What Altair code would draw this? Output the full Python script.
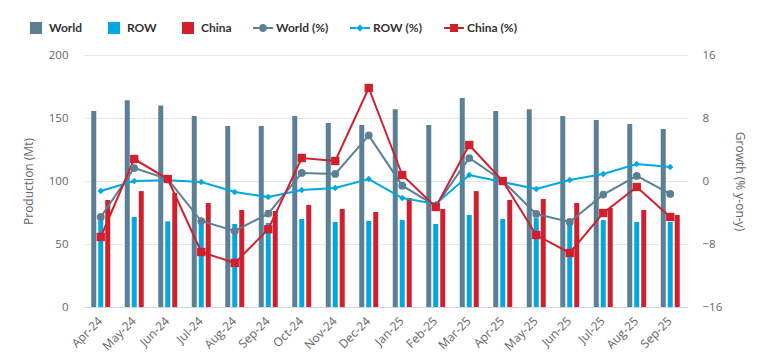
import altair as alt
import pandas as pd

months = ['Apr-24', 'May-24', 'Jun-24', 'Jul-24', 'Aug-24', 'Sep-24', 'Oct-24', 'Nov-24', 'Dec-24',
          'Jan-25', 'Feb-25', 'Mar-25', 'Apr-25', 'May-25', 'Jun-25', 'Jul-25', 'Aug-25', 'Sep-25']

world = [155.6, 164.0, 160.0, 151.6, 143.6, 143.6, 151.6, 146.0, 144.4,
         157.0, 144.4, 165.9, 155.6, 157.0, 151.6, 148.4, 145.2, 141.3]
row = [69.5, 71.4, 68.0, 68.5, 65.9, 66.7, 69.8, 67.5, 68.3,
       69.0, 65.9, 73.0, 69.8, 70.5, 68.0, 69.0, 67.5, 67.5]
china = [85.0, 92.0, 90.5, 82.5, 77.0, 76.2, 81.0, 77.8, 75.4,
         86.5, 77.8, 92.0, 85.0, 85.7, 82.5, 78.6, 77.0, 73.0]

world_pct = [-4.57, 1.65, 0.25, -5.08, -6.35, -4.14, 1.02, 0.89, 5.8,
             -0.59, -3.17, 2.92, 0.0, -4.19, -5.2, -1.73, 0.64, -1.65]
row_pct = [-1.27, 0.0, 0.09, -0.13, -1.4, -2.03, -1.14, -0.89, 0.25,
           -2.16, -2.92, 0.76, -0.13, -1.02, 0.13, 0.89, 2.16, 1.78]
china_pct = [-7.11, 2.79, 0.25, -9.02, -10.41, -6.13, 2.92, 2.54, 11.81,
             0.76, -3.3, 4.57, 0.0, -6.86, -9.14, -4.06, -0.76, -4.57]

bar_series = ['World', 'ROW', 'China']
pct_series = ['World (%)', 'ROW (%)', 'China (%)']
base_colors = ['#5B7F95', '#00A8E1', '#D21F2E']
all_series = bar_series + pct_series
all_colors = base_colors + base_colors
marker_shapes = ['circle', 'diamond', 'square']
marker_sizes = [60, 40, 70]

bars_df = pd.DataFrame(
    [{'month': m, 'series': s, 'value': v}
     for s, vals in zip(bar_series, [world, row, china])
     for m, v in zip(months, vals)]
)
pct_df = pd.DataFrame(
    [{'month': m, 'series': s, 'value': v}
     for s, vals in zip(pct_series, [world_pct, row_pct, china_pct])
     for m, v in zip(months, vals)]
)

# legend symbols (custom paths in unit coordinates): squares for bars, line + marker for lines
P_SQUARE = "M-0.6,-0.6H0.6V0.6H-0.6Z"
P_WORLD = ("M-1,-0.1H-0.4V0.1H-1Z M0.4,-0.1H1V0.1H0.4Z "
           "M-0.4,0A0.4,0.4 0 1,1 0.4,0A0.4,0.4 0 1,1 -0.4,0Z")
P_ROW = ("M-1,-0.1H-0.33V0.1H-1Z M0.33,-0.1H1V0.1H0.33Z "
         "M0,-0.35L0.35,0L0,0.35L-0.35,0Z")
P_CHINA = ("M-1,-0.1H-0.4V0.1H-1Z M0.4,-0.1H1V0.1H0.4Z "
           "M-0.4,-0.4H0.4V0.4H-0.4Z")
legend_shapes = [P_SQUARE, P_SQUARE, P_SQUARE, P_WORLD, P_ROW, P_CHINA]

label_color = '#666666'
font = 'Open Sans'

color_scale = alt.Scale(domain=all_series, range=all_colors)

legend_kw = dict(title=None, orient='none', legendX=-58, legendY=-37,
                 direction='horizontal', symbolSize=400, symbolOpacity=1,
                 symbolStrokeWidth=0, labelOffset=3, columnPadding=21, padding=0,
                 labelFont='Lato', labelFontSize=12, labelFontWeight='bold',
                 labelColor='#333333')


def color_enc():
    return alt.Color('series:N', scale=color_scale, legend=alt.Legend(**legend_kw))


x_enc = alt.X('month:N', sort=months,
              scale=alt.Scale(paddingInner=0.4334, paddingOuter=0.2167),
              axis=alt.Axis(title=None, labelAngle=-45, ticks=False, domain=True,
                            domainColor='#ccd6eb', labelColor=label_color,
                            labelFont=font, labelFontSize=12, labelPadding=8,
                            labelOffset=-4, grid=False))

bars = alt.Chart(bars_df).mark_bar().encode(
    x=x_enc,
    xOffset=alt.XOffset('series:N', sort=bar_series,
                        scale=alt.Scale(domain=bar_series, paddingInner=2 / 7, paddingOuter=0)),
    y=alt.Y('value:Q', scale=alt.Scale(domain=[0, 200], nice=False),
            axis=alt.Axis(title='Production (Mt)', orient='left', values=[0, 50, 100, 150, 200],
                          ticks=False, domain=False, grid=True, gridColor='#e6e6e6',
                          labelPadding=16, titlePadding=13, labelColor=label_color,
                          titleColor=label_color, labelFont=font, titleFont=font,
                          labelFontSize=11.5, titleFontSize=12, titleFontWeight='normal')),
    color=color_enc(),
)

y_pct = alt.Y('value:Q', scale=alt.Scale(domain=[-16, 16], nice=False),
              axis=alt.Axis(title='Growth (% y-on-y)', orient='right',
                            values=[-16, -8, 0, 8, 16], ticks=False, domain=False, grid=False,
                            labelPadding=15, titlePadding=11, labelColor=label_color,
                            titleColor=label_color, labelFont=font, titleFont=font,
                            labelFontSize=11.5, titleFontSize=12, titleFontWeight='normal'))

lines = alt.Chart(pct_df).mark_line(strokeWidth=2).encode(
    x=alt.X('month:N', sort=months),
    y=y_pct,
    color=color_enc(),
)

point_layers = []
for s, shp, sz in zip(pct_series, marker_shapes, marker_sizes):
    point_layers.append(
        alt.Chart(pct_df).transform_filter(alt.datum.series == s)
        .mark_point(filled=True, opacity=1, shape=shp, size=sz).encode(
            x=alt.X('month:N', sort=months),
            y=y_pct,
            color=color_enc(),
        )
    )

# layer that draws nothing (all rows filtered out) and only carries the legend shapes
legend_layer = alt.Chart(pct_df).transform_filter(
    alt.datum.value > 1000
).mark_point(filled=True).encode(
    x=alt.X('month:N', sort=months),
    y=y_pct,
    color=color_enc(),
    shape=alt.Shape('series:N',
                    scale=alt.Scale(domain=all_series, range=legend_shapes),
                    legend=alt.Legend(**legend_kw)),
)

pct_layer = alt.layer(lines, *point_layers, legend_layer)

chart = alt.layer(bars, pct_layer).resolve_scale(
    y='independent'
).properties(
    width=603, height=252,
    autosize=alt.AutoSizeParams(type='none'),
    padding={'left': 76, 'top': 47, 'right': 70, 'bottom': 49},
).configure_view(stroke=None)

chart.save("out.html", embed_options={"renderer": "svg", "actions": False})
